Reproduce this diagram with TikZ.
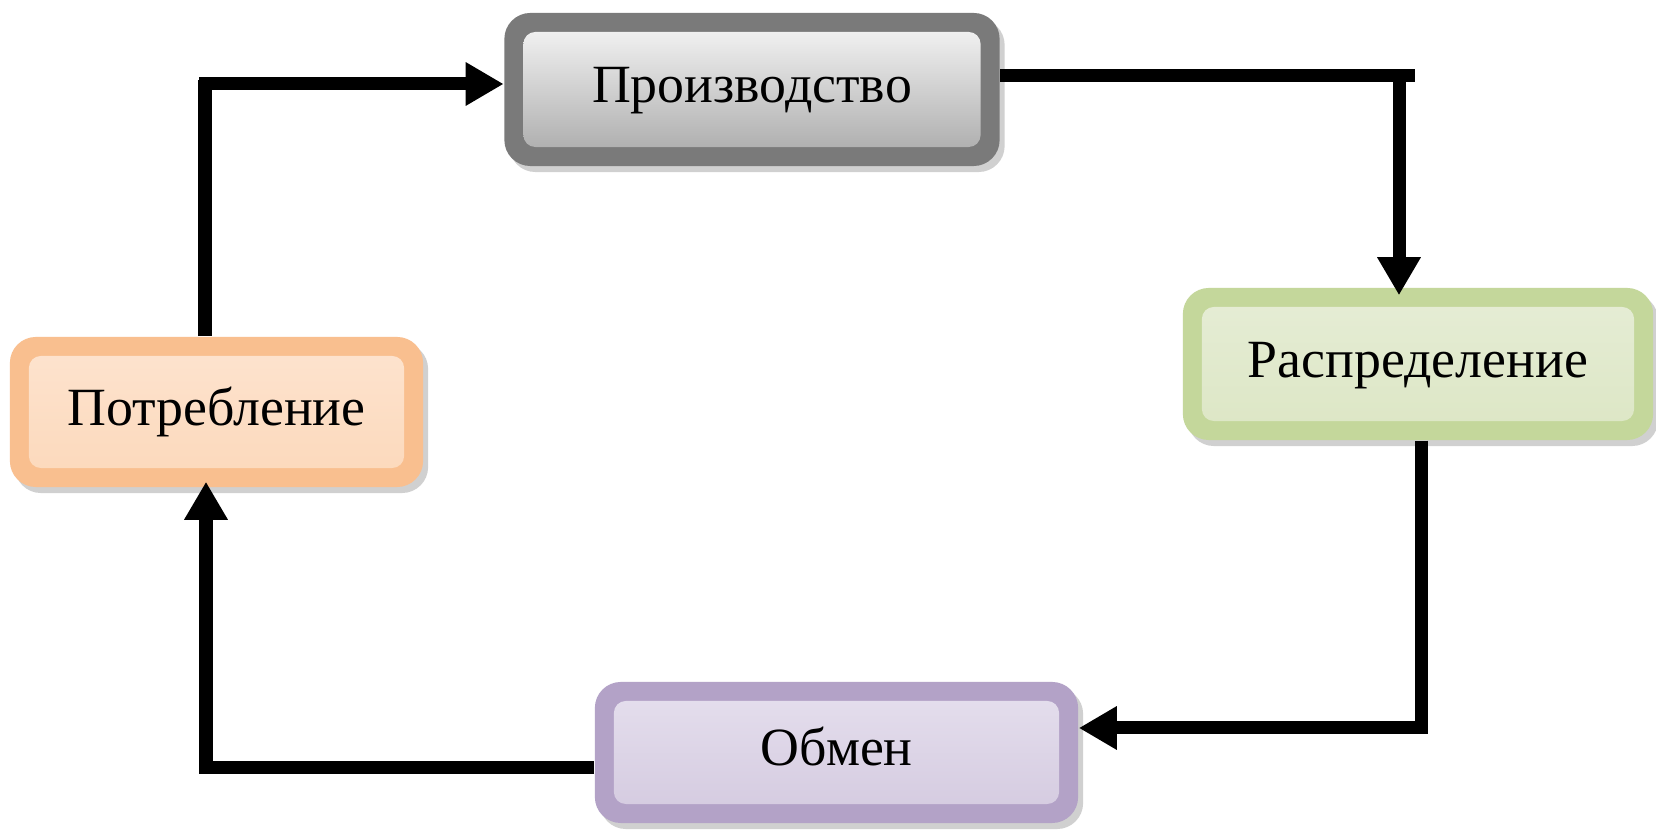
\documentclass[tikz,border=0pt]{standalone}
\usepackage{fontspec}
\setmainfont{Liberation Serif}
\usetikzlibrary{arrows.meta,shadows,calc}
\definecolor{prodB}{HTML}{7A7A7A}
\definecolor{prodT}{HTML}{FAFAFA}
\definecolor{prodD}{HTML}{A6A6A6}
\definecolor{distB}{HTML}{C4D79B}
\definecolor{distT}{HTML}{E6EDD6}
\definecolor{distD}{HTML}{DCE6C4}
\definecolor{potrB}{HTML}{F9BF8F}
\definecolor{potrT}{HTML}{FDE4D0}
\definecolor{potrD}{HTML}{FCD8BA}
\definecolor{obmB}{HTML}{B3A2C7}
\definecolor{obmT}{HTML}{E6E0EE}
\definecolor{obmD}{HTML}{D3C9DF}
\tikzset{
  box/.style={rectangle, rounded corners=0.26cm, inner sep=0pt,
    font=\fontsize{15.3}{18}\selectfont, text height=0.42cm, text depth=0.15cm,
    drop shadow={shadow xshift=0.05cm, shadow yshift=-0.06cm, fill=black!30, opacity=0.6}},
  innerfill/.style 2 args={path picture={\shade[rounded corners=0.12cm, top color=#1, bottom color=#2]
    ([xshift=0.19cm,yshift=0.19cm]path picture bounding box.south west) rectangle
    ([xshift=-0.19cm,yshift=-0.19cm]path picture bounding box.north east);}},
  conn/.style={line width=0.13cm, black},
  arr/.style={conn, -{Triangle[length=0.38cm,width=0.41cm]}},
}
\begin{document}
\begin{tikzpicture}[x=0.01cm,y=-0.01cm]
\useasboundingbox[fill=white] (0,0) rectangle (1656,831);
\node[box, fill=prodB, innerfill={prodT}{prodD}, minimum width=4.95cm, minimum height=1.53cm] (prod) at (752,89.5) {Производство};
\node[box, fill=distB, innerfill={distT}{distD}, minimum width=4.70cm, minimum height=1.52cm] (dist) at (1418,364) {Распределение};
\node[box, fill=potrB, innerfill={potrT}{potrD}, minimum width=4.13cm, minimum height=1.50cm] (potr) at (216.5,412) {Потребление};
\node[box, fill=obmB, innerfill={obmT}{obmD}, minimum width=4.83cm, minimum height=1.41cm] (obm) at (836.5,752.5) {Обмен};
% Production -> Distribution
\coordinate (c1) at (1415,76);
\draw[conn] (prod.east |- c1) -- (c1);
\coordinate (c2) at (1399,70);
\draw[arr] (c2) -- ([yshift=-0.08cm]c2 |- dist.north);
% Distribution -> Exchange
\coordinate (c3) at (1421,734);
\draw[conn] (c3 |- dist.south) -- (c3);
\coordinate (c4) at (1427,728);
\draw[arr] (c4) -- (c4 -| obm.east);
% Exchange -> Consumption
\coordinate (c5) at (200,768);
\draw[conn] (obm.west |- c5) -- (c5);
\coordinate (c6) at (206,774);
\draw[arr] (c6) -- ([yshift=0.06cm]c6 |- potr.south);
% Consumption -> Production
\coordinate (c7) at (205,80);
\draw[conn] (c7 |- potr.north) -- (c7);
\coordinate (c8) at (199,84);
\draw[arr] (c8) -- (c8 -| prod.west);
\end{tikzpicture}
\end{document}
